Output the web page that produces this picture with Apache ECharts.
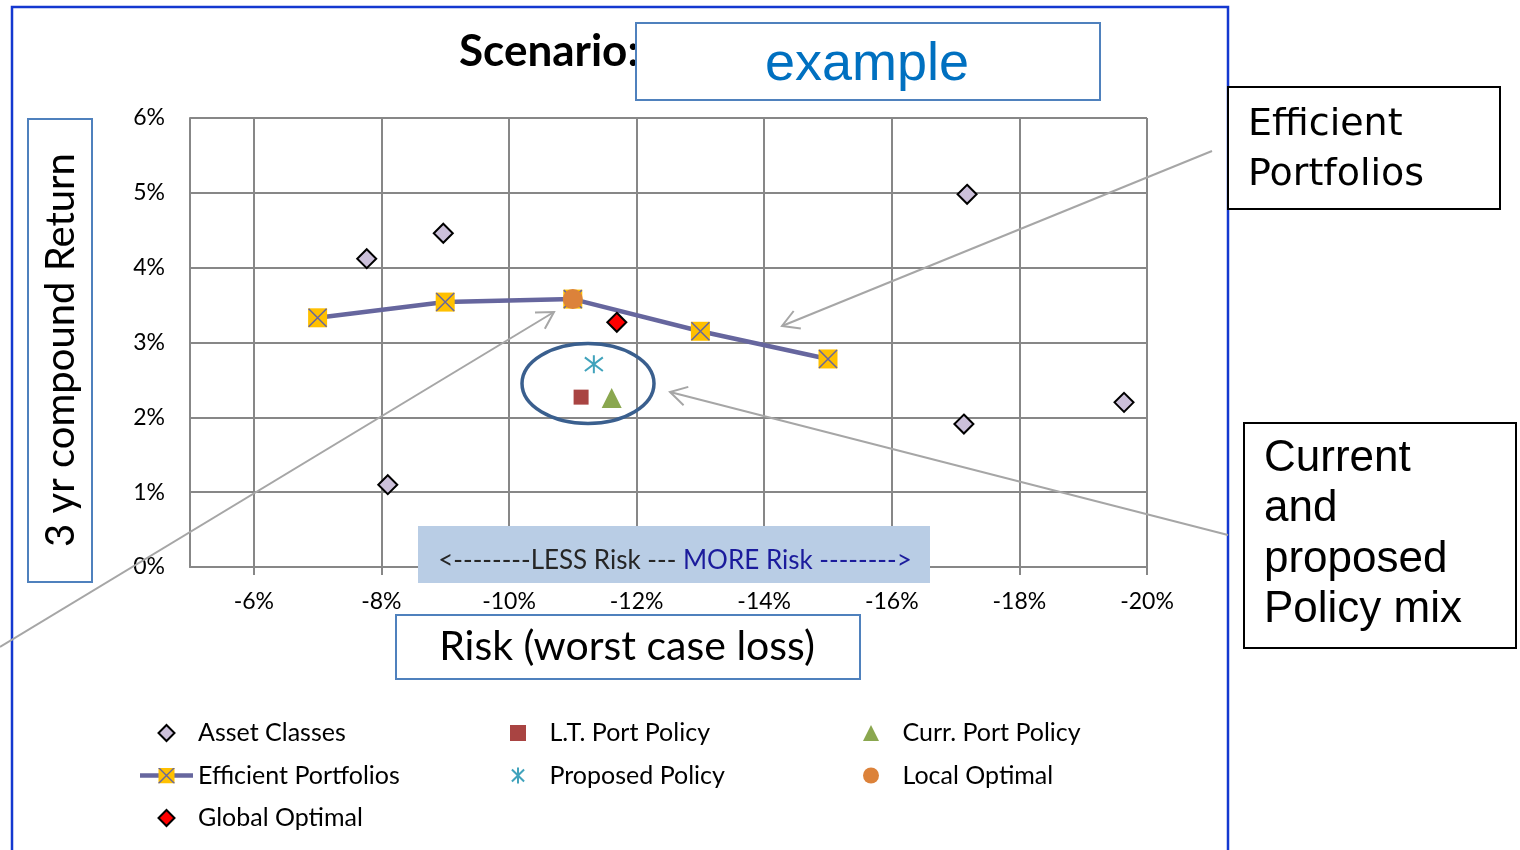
<!DOCTYPE html>
<html>
<head>
<meta charset="utf-8">
<title>Scenario: example</title>
<script src="https://cdn.jsdelivr.net/npm/echarts@6/dist/echarts.min.js"></script>
<style>
  html, body { margin: 0; padding: 0; background: #ffffff; }
  #chart { width: 1520px; height: 850px; }
</style>
</head>
<body>
<div id="chart"></div>
<script>
// Each point: [risk (worst case loss, %), 3 yr compound return (%)]
const assetClasses = [[-7.77, 4.12], [-8.97, 4.46], [-8.10, 1.10], [-17.18, 4.98], [-17.13, 1.91], [-19.64, 2.20]];
const efficientPortfolios = [[-7, 3.33], [-9, 3.54], [-11, 3.58], [-13, 3.15], [-15, 2.78]];
const ltPortPolicy = [[-11.13, 2.27]];
const currPortPolicy = [[-11.61, 2.26]];
const proposedPolicy = [[-11.33, 2.71]];
const localOptimal = [[-11.00, 3.58]];
const globalOptimal = [[-11.69, 3.27]];

// Axis ranges and tick steps (percent)
const riskRange = [-20, -5];
const riskStep = 2;
const returnRange = [0, 6];
const returnStep = 1;

const GRID_GREY = '#878787';
const FRONTIER = '#66669E';
const CAL = 'Lato, "Open Sans", sans-serif';

// Marker glyphs
const diamondPath = 'path://M5,0L10,5L5,10L0,5Z';
const squarePath = 'path://M0,0H10V10H0Z';
const trianglePath = 'path://M5,0L10,10H0Z';
const crossPath = 'path://M0,0L10,10M10,0L0,10';
const starPath = 'path://M5,0L5,10M1.2,1.2L8.8,8.8M8.8,1.2L1.2,8.8';
const frontierIcon = 'image://data:image/svg+xml;charset=utf-8,' + encodeURIComponent(
  '<svg xmlns="http://www.w3.org/2000/svg" width="53" height="16" viewBox="0 0 53 16">' +
  '<line x1="0" y1="8" x2="53" y2="8" stroke="' + FRONTIER + '" stroke-width="4.5"/>' +
  '<rect x="18.5" y="0" width="16" height="16" fill="#FFC000"/>' +
  '<path d="M18.5 0L34.5 16M34.5 0L18.5 16" stroke="' + FRONTIER + '" stroke-width="1.4"/></svg>');

function arrow(x1, y1, x2, y2) {
  const t = Math.atan2(y2 - y1, x2 - x1), len = 19, a = Math.PI / 6;
  const style = { stroke: '#A6A6A6', lineWidth: 2, fill: null };
  return [
    { type: 'polyline', z: 100, silent: true, shape: { points: [[x1, y1], [x2, y2]] }, style },
    { type: 'polyline', z: 100, silent: true, shape: { points: [
      [x2 - len * Math.cos(t - a), y2 - len * Math.sin(t - a)], [x2, y2],
      [x2 - len * Math.cos(t + a), y2 - len * Math.sin(t + a)]] }, style }
  ];
}

function box(x, y, w, h, stroke, fill) {
  return { type: 'rect', z: 100, silent: true, shape: { x, y, width: w, height: h },
    style: { fill: fill || '#ffffff', stroke: stroke || null, lineWidth: 2 } };
}

function label(text, x, y, font, opts, extra) {
  return Object.assign({ type: 'text', z: 101, silent: true, x, y,
    style: Object.assign({ text, font, fill: '#000000', align: 'left', verticalAlign: 'middle' }, opts || {}) },
    extra || {});
}

const legendText = { fontFamily: CAL, fontSize: 25, color: '#000000', lineHeight: 28 };
function legendColumn(left, names) {
  return { orient: 'vertical', left, top: 719, padding: 0, itemWidth: 53, itemHeight: 16, itemGap: 14.5,
    selectedMode: false, textStyle: legendText, data: names };
}

// scatter marks are drawn fully opaque
function marks(name, data, symbol, size, itemStyle, z) {
  return { name, type: 'scatter', z: z || 5, data, symbol, symbolSize: size,
    itemStyle: Object.assign({ opacity: 1 }, itemStyle) };
}

const chart = echarts.init(document.getElementById('chart'), null, { renderer: 'canvas' });
chart.setOption({
  animation: false,
  backgroundColor: '#ffffff',
  title: {
    text: 'Scenario:', left: 459, top: 30, padding: 0,
    textStyle: { fontFamily: CAL, fontWeight: 'bold', fontSize: 44, color: '#000000' }
  },
  grid: { left: 190, top: 118, right: 373, bottom: 283, outerBoundsMode: 'none', containLabel: false },
  xAxis: {
    type: 'value', inverse: true, min: riskRange[0], max: riskRange[1], interval: riskStep,
    axisLine: { show: true, lineStyle: { color: GRID_GREY, width: 2 } },
    axisTick: { show: true, length: 8, lineStyle: { color: GRID_GREY, width: 2 } },
    axisLabel: { showMaxLabel: false, margin: 23, formatter: v => v + '%',
      fontFamily: CAL, fontSize: 23, color: '#000000' },
    splitLine: { show: true, lineStyle: { color: GRID_GREY, width: 2 } }
  },
  yAxis: {
    type: 'value', min: returnRange[0], max: returnRange[1], interval: returnStep,
    axisLine: { show: true, lineStyle: { color: GRID_GREY, width: 2 } },
    axisTick: { show: false },
    axisLabel: { margin: 25, formatter: v => v + '%', fontFamily: CAL, fontSize: 23, color: '#000000' },
    splitLine: { show: true, lineStyle: { color: GRID_GREY, width: 2 } }
  },
  legend: [
    legendColumn(140, [{ name: 'Asset Classes', icon: diamondPath }, { name: 'Efficient Portfolios', icon: frontierIcon },
      { name: 'Global Optimal', icon: diamondPath }]),
    legendColumn(510, [{ name: 'L.T. Port Policy', icon: squarePath }, { name: 'Proposed Policy', icon: starPath }]),
    legendColumn(863, [{ name: 'Curr. Port Policy', icon: trianglePath }, { name: 'Local Optimal', icon: 'circle' }])
  ],
  series: [
    marks('Asset Classes', assetClasses, 'diamond', 19,
      { color: '#CCC0DA', borderColor: '#000000', borderWidth: 2 }, 3),
    { name: 'Efficient Portfolios', type: 'line', z: 3, data: efficientPortfolios, symbol: 'rect', symbolSize: 19,
      showAllSymbol: true, itemStyle: { color: '#FFC000', opacity: 1 }, lineStyle: { color: FRONTIER, width: 4.5 } },
    Object.assign(marks(undefined, efficientPortfolios, crossPath, 18,
      { color: 'rgba(0,0,0,0)', borderColor: FRONTIER, borderWidth: 1.5 }, 4), { id: 'frontier-cross', silent: true }),
    marks('Local Optimal', localOptimal, 'circle', 20, { color: '#DC823A' }),
    marks('Global Optimal', globalOptimal, 'diamond', 19, { color: '#FF0000', borderColor: '#000000', borderWidth: 2 }),
    marks('Proposed Policy', proposedPolicy, starPath, 18, { color: 'rgba(0,0,0,0)', borderColor: '#41A3BC', borderWidth: 2 }),
    marks('L.T. Port Policy', ltPortPolicy, 'rect', 15, { color: '#A94442' }),
    marks('Curr. Port Policy', currPortPolicy, 'triangle', 20, { color: '#8AA74F' })
  ],
  graphic: [
    // chart frame
    { type: 'rect', z: 99, silent: true, shape: { x: 12, y: 7, width: 1216, height: 900 },
      style: { fill: null, stroke: '#1438D0', lineWidth: 2.5 } },
    // scenario name
    box(636, 23, 464, 77, '#4F81BD'),
    label('example', 867, 65, '54px "Liberation Sans", Arial, sans-serif', { fill: '#0070C0', align: 'center' }),
    // axis titles
    box(28, 119, 64, 463, '#4F81BD'),
    label('3 yr compound Return', 61, 350, '40px ' + CAL, { align: 'center' }, { rotation: Math.PI / 2 }),
    box(396, 615, 464, 64, '#4F81BD'),
    label('Risk (worst case loss)', 627, 647, '41px ' + CAL, { align: 'center' }),
    // risk direction banner
    box(418, 526, 512, 57, null, '#B9CDE5'),
    { type: 'text', z: 101, silent: true, x: 675, y: 561,
      style: { text: '{a|<--------LESS Risk --- }{b|MORE Risk -------->}', align: 'center', verticalAlign: 'middle',
        rich: { a: { fontFamily: CAL, fontSize: 26, fill: '#262626' }, b: { fontFamily: CAL, fontSize: 26, fill: '#1B1B9C' } } } },
    // policy mix ring
    { type: 'ellipse', z: 100, silent: true, shape: { cx: 588, cy: 383.5, rx: 66, ry: 40 },
      style: { fill: null, stroke: '#3A5F8E', lineWidth: 3.5 } },
    ...arrow(1212, 151, 782, 326),
    ...arrow(1228, 535, 670, 392),
    ...arrow(0, 647, 554, 312),
    // callouts
    box(1228, 87, 272, 122, '#000000'),
    label('Efficient', 1248, 125, '38px "DejaVu Sans", sans-serif'),
    label('Portfolios', 1248, 175, '38px "DejaVu Sans", sans-serif'),
    box(1244, 423, 272, 225, '#000000'),
    label('Current', 1264, 459, '44px "Liberation Sans", Arial, sans-serif'),
    label('and', 1264, 509, '44px "Liberation Sans", Arial, sans-serif'),
    label('proposed', 1264, 560, '44px "Liberation Sans", Arial, sans-serif'),
    label('Policy mix', 1264, 610, '44px "Liberation Sans", Arial, sans-serif')
  ]
});
</script>
</body>
</html>
